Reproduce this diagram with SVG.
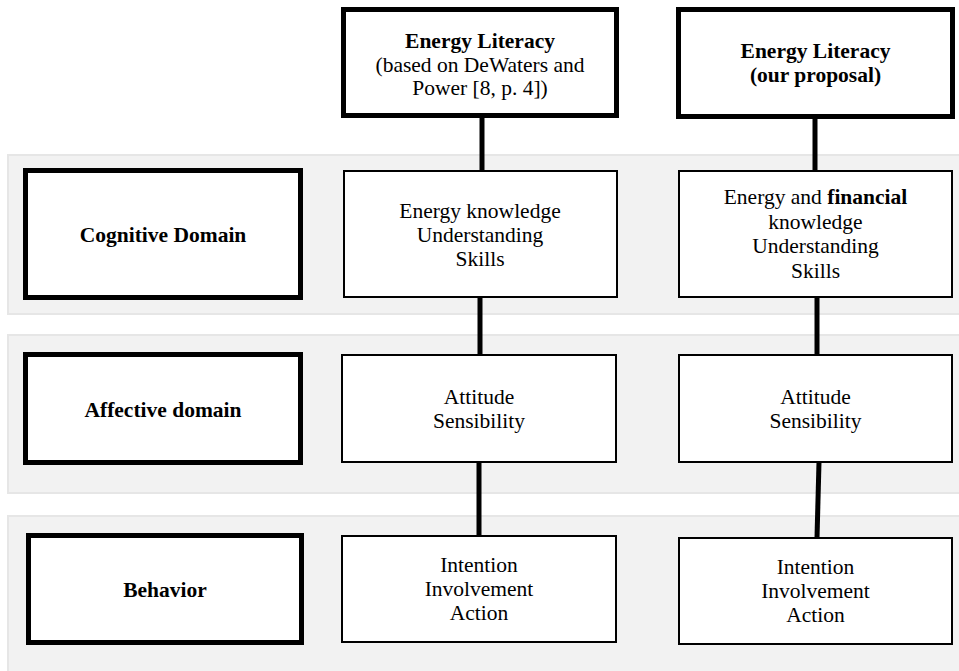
<svg xmlns="http://www.w3.org/2000/svg" width="959" height="671" viewBox="0 0 959 671" font-family="Liberation Serif, Times New Roman, DejaVu Serif, serif">
<style>
.band{fill:#f2f2f2;stroke:#e6e6e6;stroke-width:2}
.thick{fill:#fff;stroke:#000;stroke-width:5}
.thin{fill:#fff;stroke:#000;stroke-width:2}
.conn{stroke:#000;stroke-width:5;fill:none}
text{font-size:21.5px;fill:#000;text-anchor:middle}
.b{font-weight:bold;font-size:21.5px}
</style>
<rect width="959" height="671" fill="#fff"/>
<g id="bands">
<rect class="band" x="8" y="155" width="960" height="159"/>
<rect class="band" x="8" y="335" width="960" height="158"/>
<rect class="band" x="8" y="516" width="960" height="160"/>
</g>
<g id="connectors">
<line class="conn" x1="482" y1="117" x2="482" y2="171"/>
<line class="conn" x1="815" y1="117" x2="815" y2="171"/>
<line class="conn" x1="480" y1="297" x2="480" y2="355"/>
<line class="conn" x1="817" y1="297" x2="817" y2="355"/>
<line class="conn" x1="479" y1="462" x2="479" y2="536"/>
<line class="conn" x1="819" y1="462" x2="817" y2="538"/>
</g>
<g id="header-dewaters">
<rect class="thick" x="343.5" y="9.5" width="273" height="106"/>
<text class="b" x="480" y="48">Energy Literacy</text>
<text x="480" y="72">(based on DeWaters and</text>
<text x="480" y="95">Power [8, p. 4])</text>
</g>
<g id="header-proposal">
<rect class="thick" x="678.5" y="9.5" width="274" height="107"/>
<text class="b" x="815.5" y="58">Energy Literacy</text>
<text class="b" x="815.5" y="82">(our proposal)</text>
</g>
<g id="cognitive-domain">
<rect class="thick" x="25.5" y="170.5" width="275" height="127"/>
<text class="b" x="163" y="242">Cognitive Domain</text>
</g>
<g id="cognitive-dewaters">
<rect class="thin" x="344" y="171" width="273" height="126"/>
<text x="480" y="218">Energy knowledge</text>
<text x="480" y="242">Understanding</text>
<text x="480" y="266">Skills</text>
</g>
<g id="cognitive-proposal">
<rect class="thin" x="679" y="171" width="273" height="126"/>
<text x="815.5" y="204">Energy and <tspan font-weight="bold">financial</tspan></text>
<text x="815.5" y="228.5">knowledge</text>
<text x="815.5" y="253">Understanding</text>
<text x="815.5" y="277.5">Skills</text>
</g>
<g id="affective-domain">
<rect class="thick" x="25.5" y="354.5" width="275" height="108"/>
<text class="b" x="163" y="417">Affective domain</text>
</g>
<g id="affective-dewaters">
<rect class="thin" x="342" y="355" width="274" height="107"/>
<text x="479" y="404">Attitude</text>
<text x="479" y="428">Sensibility</text>
</g>
<g id="affective-proposal">
<rect class="thin" x="679" y="355" width="273" height="107"/>
<text x="815.5" y="404">Attitude</text>
<text x="815.5" y="428">Sensibility</text>
</g>
<g id="behavior">
<rect class="thick" x="28.5" y="535.5" width="273" height="107"/>
<text class="b" x="165" y="597">Behavior</text>
</g>
<g id="behavior-dewaters">
<rect class="thin" x="342" y="536" width="274" height="106"/>
<text x="479" y="572">Intention</text>
<text x="479" y="596">Involvement</text>
<text x="479" y="620">Action</text>
</g>
<g id="behavior-proposal">
<rect class="thin" x="679" y="538" width="273" height="106"/>
<text x="815.5" y="574">Intention</text>
<text x="815.5" y="598">Involvement</text>
<text x="815.5" y="622">Action</text>
</g>
</svg>
